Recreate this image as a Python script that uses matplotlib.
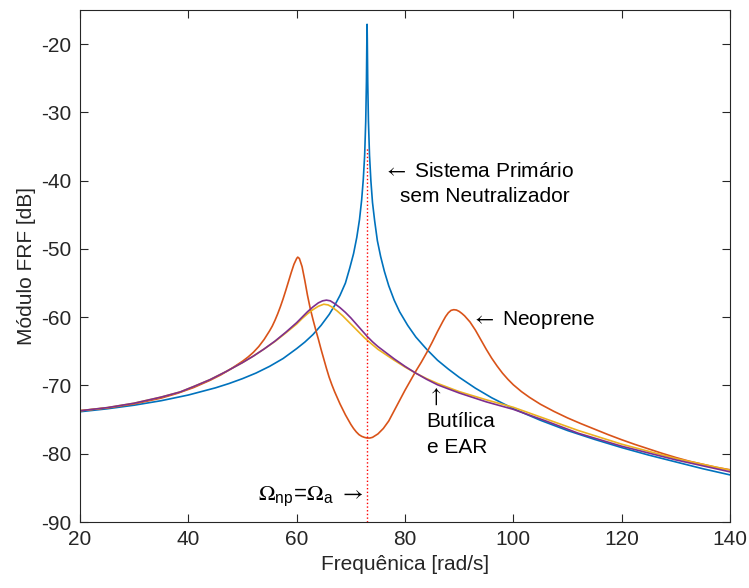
import matplotlib
matplotlib.use('Agg')
import matplotlib.pyplot as plt

plt.rcParams['font.family'] = ['Liberation Sans', 'DejaVu Sans']
plt.rcParams['axes.unicode_minus'] = False
plt.rcParams['mathtext.fontset'] = 'custom'
plt.rcParams['mathtext.rm'] = 'STIXGeneral'
plt.rcParams['mathtext.it'] = 'STIXGeneral:italic'
plt.rcParams['mathtext.bf'] = 'STIXGeneral:bold'
plt.rcParams['mathtext.sf'] = 'Liberation Sans'

# Primary system alone (blue)
freq_prim = [20, 25, 30, 35, 40, 45, 47.5, 50, 52.5, 55, 57.5, 60, 61.5, 63, 64.5, 66,
             67, 68, 69, 69.8, 70.5, 71.1, 71.6, 72.0, 72.3, 72.55, 72.75, 72.88, 72.96,
             73.0, 73.04, 73.12, 73.25, 73.45, 73.7, 74.0, 74.4, 74.9, 75.5, 76.2, 77.0,
             78.0, 79.0, 80.5, 82, 84, 86, 88, 90, 93, 96, 100, 105, 110, 115, 120, 125,
             130, 135, 140]
db_prim = [-73.85, -73.42, -72.89, -72.23, -71.4, -70.35, -69.72, -69.0, -68.18, -67.2,
           -66.05, -64.6, -63.65, -62.55, -61.2, -59.6, -58.3, -56.8, -55.0, -52.8,
           -50.7, -48.3, -45.7, -42.8, -39.8, -36.3, -31.3, -25.5, -19.3, -17.1, -19.3,
           -25.5, -31.3, -36.3, -40.0, -43.2, -45.9, -48.8, -51.1, -53.3, -55.4, -57.5,
           -59.2, -61.2, -62.9, -64.7, -66.3, -67.6, -68.8, -70.4, -71.8, -73.4, -75.1,
           -76.6, -77.9, -79.1, -80.2, -81.2, -82.2, -83.1]

# Neoprene absorber (red)
freq_neo = [20, 25, 30, 35, 38, 41, 44, 46, 48, 50, 51, 52, 53, 54, 55, 55.5, 56, 56.5,
            57, 57.5, 58, 58.5, 59, 59.5, 60, 60.2, 60.5, 61.0, 61.5, 62.0, 62.5, 63.0,
            63.5, 64.0, 64.5, 65.0, 65.5, 66.0, 66.5, 67.0, 67.5, 68.0, 68.5, 69.0,
            69.5, 70.0, 70.5, 71.0, 71.5, 72.0, 72.5, 73.0, 73.5, 74.0, 75.0, 76.0,
            77.0, 78.0, 79.0, 80.0, 81.0, 82.0, 83.0, 84.0, 85.0, 86.0, 87.0, 87.5,
            88.0, 88.5, 89.0, 89.5, 90.0, 90.5, 91.0, 92.0, 93.0, 94.0, 95.0, 96.0,
            97.0, 98.0, 99.0, 100, 101.5, 103, 105, 107.5, 110, 112.5, 115, 117.5,
            120, 122.5, 125, 127.5, 130, 132.5, 135, 137.5, 140]
db_neo = [-73.7, -73.3, -72.7, -71.85, -71.15, -70.3, -69.25, -68.45, -67.5, -66.45,
          -65.85, -65.15, -64.3, -63.25, -62.0, -61.3, -60.45, -59.5, -58.45, -57.3,
          -56.05, -54.75, -53.45, -52.25, -51.4, -51.2, -51.4, -52.6, -54.6, -56.8,
          -58.7, -60.3, -61.8, -63.2, -64.7, -66.1, -67.5, -68.8, -69.9, -70.9,
          -71.8, -72.7, -73.5, -74.3, -75.0, -75.7, -76.3, -76.8, -77.2, -77.45,
          -77.6, -77.7, -77.7, -77.6, -77.1, -76.3, -75.2, -73.7, -72.2, -70.7,
          -69.3, -67.9, -66.6, -65.2, -63.7, -62.1, -60.6, -59.9, -59.35, -59.0,
          -58.9, -58.95, -59.15, -59.45, -59.8, -60.7, -61.9, -63.3, -64.7, -66.0,
          -67.15, -68.2, -69.1, -69.9, -70.9, -71.75, -72.75, -73.8, -74.75, -75.6,
          -76.4, -77.2, -77.95, -78.65, -79.3, -79.95, -80.55, -81.1, -81.55, -82.0,
          -82.35]

# EAR absorber (yellow)
freq_ear = [20, 25, 30, 35, 38.5, 41, 44, 47, 50, 52, 54, 56, 58, 60, 61, 62, 63, 64,
            65, 65.8, 66.5, 67.5, 68.5, 69.5, 70.5, 71.5, 72.5, 73.5, 75, 76.5, 78, 80,
            82, 84, 86, 88, 90, 95, 100, 106, 112, 120, 130, 140]
db_ear = [-73.7, -73.25, -72.6, -71.7, -70.95, -70.15, -69.15, -67.95, -66.65, -65.7,
          -64.65, -63.55, -62.3, -61.0, -60.2, -59.5, -58.9, -58.4, -58.1, -58.2,
          -58.5, -59.1, -59.8, -60.6, -61.4, -62.2, -63.0, -63.7, -64.7, -65.5,
          -66.3, -67.3, -68.2, -69.0, -69.7, -70.3, -70.9, -72.1, -73.2, -74.9,
          -76.6, -78.6, -80.7, -82.4]

# Butyl absorber (purple)
freq_but = [20, 25, 30, 35, 38.5, 41, 44, 47, 50, 52, 54, 56, 58, 60, 61, 62, 63, 64,
            64.8, 65.5, 66.2, 67, 68, 69, 70, 71, 72, 73, 74, 75, 76.5, 78, 80, 82, 84,
            86, 88, 90, 95, 100, 106, 112, 120, 130, 140]
db_but = [-73.7, -73.25, -72.6, -71.7, -70.95, -70.15, -69.15, -67.95, -66.65, -65.7,
          -64.65, -63.5, -62.2, -60.8, -60.0, -59.2, -58.5, -57.9, -57.6, -57.5,
          -57.6, -58.0, -58.6, -59.3, -60.1, -61.0, -61.9, -62.8, -63.6, -64.3,
          -65.2, -66.1, -67.2, -68.2, -69.1, -69.9, -70.5, -71.1, -72.4, -73.5,
          -75.2, -77.0, -78.9, -80.9, -82.65]

omega_a = 72.93
marker_top = -35.0

fig = plt.figure(figsize=(7.49, 5.88), dpi=100)
ax = fig.add_axes([80 / 749, 66 / 588, 650 / 749, 512 / 588])

ax.plot(freq_prim, db_prim, color='#0072BD', lw=1.2)
ax.plot(freq_neo, db_neo, color='#D95319', lw=1.2)
ax.plot(freq_ear, db_ear, color='#EDB120', lw=1.2)
ax.plot(freq_but, db_but, color='#7E2F8E', lw=1.2)
ax.vlines(omega_a, -90, marker_top, colors='#FF0000', linestyles=':', lw=1.0)

ax.set_xlim(20, 140)
ax.set_ylim(-90, -15)
ax.set_xticks(range(20, 141, 20))
ax.set_yticks(range(-90, -19, 10))

axc = '#262626'
for s in ax.spines.values():
    s.set_color(axc)
    s.set_linewidth(0.8)
ax.tick_params(direction='in', length=6, width=0.8, colors=axc, labelsize=15,
               top=True, right=True, pad=6)

ax.set_xlabel('Frequênica [rad/s]', fontsize=15, color=axc)
ax.set_ylabel('Módulo FRF [dB]', fontsize=15, color=axc)

fs = 15
ax.text(76.0, -38.6, r'$\leftarrow$ Sistema Primário', fontsize=fs, va='center', color='black')
ax.text(79.1, -42.3, 'sem Neutralizador', fontsize=fs, va='center', color='black')
ax.text(92.2, -60.4, r'$\leftarrow$ Neoprene', fontsize=fs, va='center', color='black')
ax.text(84.0, -71.6, r'$\uparrow$', fontsize=fs, va='center', color='black')
ax.text(84.0, -75.3, 'Butílica', fontsize=fs, va='center', color='black')
ax.text(84.0, -79.1, 'e EAR', fontsize=fs, va='center', color='black')
ax.text(72.2, -86.3, r'$\Omega_{\mathsf{np}}$=$\Omega_{\mathsf{a}}$ $\rightarrow$',
        fontsize=16, va='center', ha='right', color='black')

fig.savefig('out.png', dpi=100, facecolor='white')
